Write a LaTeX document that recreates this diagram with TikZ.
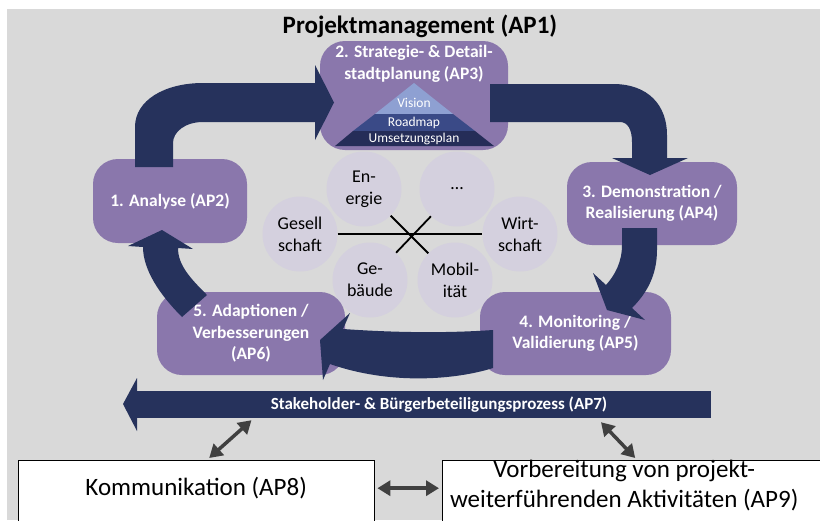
\documentclass[tikz,border=0pt]{standalone}
\usepackage{fontspec}
\setmainfont{Carlito}
\usetikzlibrary{arrows.meta}

\definecolor{sfondo}{HTML}{D9D9D9}
\definecolor{viola}{HTML}{8A77AC}
\definecolor{blu}{HTML}{26325C}
\definecolor{lilla}{HTML}{D4D0DE}
\definecolor{vision}{HTML}{8EA0D2}
\definecolor{roadmap}{HTML}{3A4A87}
\definecolor{umsetz}{HTML}{252D58}
\definecolor{grigio}{HTML}{404040}

\tikzset{
  fase/.style={fill=viola, rounded corners=25pt, inner sep=0pt, text=white, align=center,
    font=\bfseries\fontsize{17.5}{21.5}\selectfont},
  tema/.style={circle, fill=lilla, minimum size=75pt, inner sep=0pt, align=center,
    font=\fontsize{18}{22}\selectfont},
  piramide/.style={text=white, inner sep=0pt, font=\fontsize{13.5}{16}\selectfont},
  doppia/.style={{Triangle[length=13pt,width=15pt]}-{Triangle[length=13pt,width=15pt]},
    line width=3.5pt, draw=grigio},
  casella/.style={align=center, inner sep=0pt, font=\fontsize{25}{30}\selectfont},
}

\begin{document}
\begin{tikzpicture}[x=1pt, y=-1pt]
    \useasboundingbox (0,0) rectangle (820,520);
    \clip (0,0) rectangle (820,520);

    % Sfondo
    \fill[sfondo] (7,9) rectangle (820,520);
    \node[font=\bfseries\fontsize{25}{30}\selectfont] (ap1) at (420,26) {Projektmanagement (AP1)};

    % Temi
    \node[tema] (energie) at (364,189) {En-\\ergie};
    \node[tema] (punti) at (457,189) {…};
    \node[tema] (gesell) at (300,234) {Gesell\\schaft};
    \node[tema] (wirt) at (520,234) {Wirt-\\schaft};
    \node[tema] (gebaeude) at (370,280) {Ge-\\bäude};
    \node[tema] (mobil) at (455,280) {Mobil-\\ität};
    \draw[line width=1.8pt] (gesell) -- (wirt);
    \draw[line width=1.8pt] (energie) -- (mobil);
    \draw[line width=1.8pt] (punti) -- (gebaeude);

    % Fasi
    \node[fase, minimum width=154pt, minimum height=84pt] (ap2) at (170,201) {1. Analyse (AP2)};
    \node[fase, minimum width=188pt, minimum height=109pt] (ap3) at (414,95.5) {};
    \node[fase, fill=none] (ap3testo) at (414,64) {2. Strategie- \& Detail-\\stadtplanung (AP3)};
    \node[fase, minimum width=170pt, minimum height=83pt] (ap4) at (652,203.5) {3. Demonstration /\\Realisierung (AP4)};
    \node[fase, minimum width=191pt, minimum height=83pt] (ap5) at (575.5,333.5) {4. Monitoring /\\Validierung (AP5)};
    \node[fase, minimum width=188pt, minimum height=83pt] (ap6) at (251,333.5) {5. Adaptionen /\\Verbesserungen\\(AP6)};

    % Piramide
    \fill[vision] (414,83) -- (453,114) -- (375,114) -- cycle;
    \fill[roadmap] (375,114) -- (453,114) -- (475,131) -- (353,131) -- cycle;
    \fill[umsetz] (353,131) -- (475,131) -- (494,146) -- (335,146) -- cycle;
    \node[piramide] (vis) at (414,103) {Vision};
    \node[piramide] (road) at (414,122.5) {Roadmap};
    \node[piramide] (plan) at (414,139) {Umsetzungsplan};

    % Frecce del ciclo
    \fill[blu] (135,167) -- (135,127) .. controls (135,100) and (165,83) .. (203,83)
      -- (315,83) -- (315,65) -- (334,102.5) -- (315,140) -- (315,122) -- (203,122)
      .. controls (185,122) and (173,132) .. (173,143) -- (173,167) -- cycle;
    \fill[blu] (490,84) -- (613,84) .. controls (648,84) and (667,105) .. (667,135)
      -- (667,158) -- (688,158) -- (650,175) -- (612,158) -- (632,158) -- (632,142)
      .. controls (632,130) and (628,122) .. (620,122) -- (490,122) -- cycle;
    \fill[blu] (622,228) -- (657,228) -- (657,250) .. controls (657,275) and (647,293) .. (632,308)
      -- (645,320) -- (607,310) -- (593,273) -- (606,285)
      .. controls (615,275) and (622,262) .. (622,245) -- cycle;
    \fill[blu] (343,329) .. controls (400,333) and (450,333) .. (493,330) -- (493,368)
      .. controls (455,380) and (390,385) .. (330,364) -- (323,380) -- (320,340) -- (350,313) -- cycle;
    \fill[blu] (143,247) .. controls (143,270) and (160,295) .. (182,317) -- (207,295)
      .. controls (190,278) and (178,265) .. (178,248) -- (193,249) -- (162,230) -- (128,246) -- cycle;

    % Partecipazione
    \node[fill=blu, minimum width=575pt, minimum height=27pt, inner sep=0pt] (ap7) at (423.5,404.5) {};
    \fill[blu] (137,378) -- (123,404) -- (137,431) -- cycle;
    \node[text=white, font=\bfseries\fontsize{17}{20}\selectfont] (ap7testo) at (439,404.5)
      {Stakeholder- \& Bürgerbeteiligungsprozess (AP7)};

    % Caselle in basso
    \draw[fill=white, line width=0.8pt] (18,460) rectangle (374,540);
    \draw[fill=white, line width=0.8pt] (442,460) rectangle (830,540);
    \node[casella, minimum width=356pt, minimum height=56pt, anchor=north west] (ap8) at (18,460) {Kommunikation (AP8)};
    \node[casella, minimum width=364pt, minimum height=50pt, anchor=north west] (ap9) at (442,460)
      {Vorbereitung von projekt-\\weiterführenden Aktivitäten (AP9)};

    % Frecce doppie
    \draw[doppia] ([xshift=13pt,yshift=2pt]ap8.north) -- ([xshift=-172pt,yshift=-2pt]ap7.south);
    \draw[doppia] ([xshift=177.5pt,yshift=-4pt]ap7.south) -- ([xshift=11pt,yshift=2pt]ap9.north);
    \draw[doppia, shorten <=3pt, shorten >=3pt] (ap8.east) -- (ap8.east -| ap9.west);
\end{tikzpicture}
\end{document}
